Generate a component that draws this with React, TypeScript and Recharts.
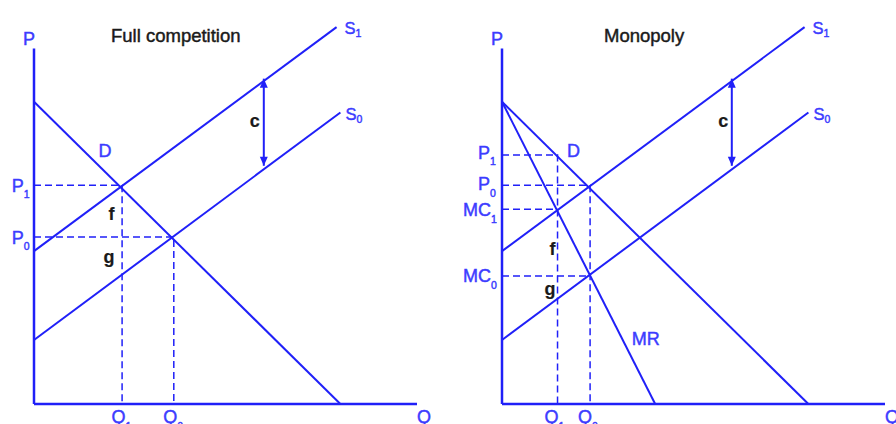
import { LineChart, Line, XAxis, YAxis, ReferenceDot } from 'recharts';

const LINE = '#2020f8';
const TEXT = '#3c3cff';
const INK = '#1a1a1a';
const FONT = '"Liberation Sans", Arial, sans-serif';

// both panels share the same curves (quantity 0-100, price 0-108)
const demand = [{ x: 0, y: 85 }, { x: 80, y: 0 }];
const marginalRevenue = [{ x: 0, y: 85 }, { x: 40, y: 0 }];
const supplyBefore = [{ x: 0, y: 18 }, { x: 80, y: 82 }];
const supplyAfter = [{ x: 0, y: 43 }, { x: 79, y: 106 }];
const costShift = [{ x: 60, y: 91.5 }, { x: 60, y: 67 }];
const priceAxis = [{ x: 0, y: 0 }, { x: 0, y: 100 }];
const quantityAxis = [{ x: 0, y: 0 }, { x: 100, y: 0 }];

// full competition: P1/Q1 after the cost rise, P0/Q0 before
const compNew = [{ x: 0, y: 61.5 }, { x: 23, y: 61.5 }, { x: 23, y: 0 }];
const compOld = [{ x: 0, y: 47 }, { x: 36.5, y: 47 }, { x: 36.5, y: 0 }];

// monopoly
const monoP1 = [{ x: 0, y: 70 }, { x: 14.5, y: 70 }, { x: 14.5, y: 0 }];
const monoP0 = [{ x: 0, y: 61.5 }, { x: 23, y: 61.5 }, { x: 23, y: 0 }];
const monoMC1 = [{ x: 0, y: 54.75 }, { x: 14.5, y: 54.75 }];
const monoMC0 = [{ x: 0, y: 36 }, { x: 23, y: 36 }];

interface TagProps {
    cx?: number;
    cy?: number;
    text: string;
    sub?: string;
    dx?: number;
    dy?: number;
    size?: number;
    subDy?: number;
    color?: string;
    bold?: boolean;
    anchor?: 'start' | 'middle' | 'end';
}

function Tag({ cx = 0, cy = 0, text, sub, dx = 0, dy = 0, size = 18, subDy = 6.5, color = TEXT, bold = false, anchor = 'start' }: TagProps) {
    return (
        <text
            x={cx + dx}
            y={cy + dy}
            fill={color}
            stroke={color}
            strokeWidth={bold ? 0.2 : 0.45}
            fontSize={size}
            fontFamily={FONT}
            fontWeight={bold ? 700 : 400}
            textAnchor={anchor}
        >
            {text}
            {sub ? <tspan fontSize={10.5} dy={subDy}>{sub}</tspan> : null}
        </text>
    );
}

function note(key: string, x: number, y: number, props: TagProps) {
    return (
        <ReferenceDot
            key={key}
            x={x}
            y={y}
            r={0}
            ifOverflow="visible"
            shape={(p: any) => <Tag cx={p.cx} cy={p.cy} {...props} />}
        />
    );
}

function ArrowHead(props: any) {
    const { cx, cy, index } = props;
    const d = index === 0 ? 9 : -9;
    return (
        <polygon
            key={`ah-${index}`}
            points={`${cx},${cy} ${cx - 4},${cy + d} ${cx + 4},${cy + d}`}
            fill={LINE}
        />
    );
}

function seg(key: string, data: { x: number; y: number }[], width = 2, dash?: string) {
    return (
        <Line
            key={key}
            data={data}
            dataKey="y"
            type="linear"
            stroke={LINE}
            strokeWidth={width}
            strokeDasharray={dash}
            dot={false}
            activeDot={false}
            isAnimationActive={false}
        />
    );
}

function Arrow() {
    return (
        <Line
            data={costShift}
            dataKey="y"
            type="linear"
            stroke={LINE}
            strokeWidth={2}
            dot={(p: any) => <ArrowHead {...p} key={`ah-${p.index}`} />}
            activeDot={false}
            isAnimationActive={false}
        />
    );
}

const axes = [
    <XAxis key="x" type="number" dataKey="x" domain={[0, 100]} hide />,
    <YAxis key="y" type="number" dataKey="y" domain={[0, 108]} hide />,
];

const black = { size: 18, color: INK, bold: true };

function FullCompetition() {
    return (
        <LineChart width={448} height={424} margin={{ top: 20, right: 31, bottom: 20, left: 34 }}>
            {axes}
            {seg('pa', priceAxis, 2.5)}
            {seg('qa', quantityAxis, 2.5)}
            {seg('d', demand)}
            {seg('s0', supplyBefore)}
            {seg('s1', supplyAfter)}
            {seg('new', compNew, 1.5, '7 4')}
            {seg('old', compOld, 1.5, '7 4')}
            <Arrow />
            {note('p', 0, 100, { text: 'P', dx: -11, dy: -3.5 })}
            {note('t', 0, 100, { text: 'Full competition', dx: 77, dy: -6.5, size: 18.5, color: INK })}
            {note('s1l', 79, 106, { text: 'S', sub: '1', dx: 8, dy: 7, size: 16.5, subDy: 3 })}
            {note('s0l', 80, 82, { text: 'S', sub: '0', dx: 5, dy: 8, size: 16.5, subDy: 3 })}
            {note('c', 60, 91.5, { text: 'c', dx: -14, dy: 48, ...black })}
            {note('dl', 0, 85, { text: 'D', dx: 64.5, dy: 55 })}
            {note('p1', 0, 61.5, { text: 'P', sub: '1', dx: -22.3, dy: 6.5 })}
            {note('p0', 0, 47, { text: 'P', sub: '0', dx: -22.3, dy: 7 })}
            {note('f', 23, 61.5, { text: 'f', dx: -10.5, dy: 35, anchor: 'middle', ...black })}
            {note('g', 23, 47, { text: 'g', dx: -13, dy: 26, anchor: 'middle', ...black })}
            {note('q1', 23, 0, { text: 'Q', sub: '1', dx: -10.5, dy: 19.2 })}
            {note('q0', 36.5, 0, { text: 'Q', sub: '0', dx: -10.5, dy: 19.2 })}
            {note('q', 100, 0, { text: 'Q', dx: 0, dy: 19.2 })}
        </LineChart>
    );
}

function Monopoly() {
    return (
        <LineChart width={448} height={424} margin={{ top: 20, right: 11, bottom: 20, left: 54 }}>
            {axes}
            {seg('pa', priceAxis, 2.5)}
            {seg('qa', quantityAxis, 2.5)}
            {seg('d', demand)}
            {seg('mr', marginalRevenue)}
            {seg('s0', supplyBefore)}
            {seg('s1', supplyAfter)}
            {seg('p1', monoP1, 1.5, '7 4')}
            {seg('p0', monoP0, 1.5, '7 4')}
            {seg('mc1', monoMC1, 1.5, '7 4')}
            {seg('mc0', monoMC0, 1.5, '7 4')}
            <Arrow />
            {note('p', 0, 100, { text: 'P', dx: -11, dy: -3.5 })}
            {note('t', 0, 100, { text: 'Monopoly', dx: 102, dy: -6.5, size: 18.5, color: INK })}
            {note('s1l', 79, 106, { text: 'S', sub: '1', dx: 8, dy: 7, size: 16.5, subDy: 3 })}
            {note('s0l', 80, 82, { text: 'S', sub: '0', dx: 5, dy: 8, size: 16.5, subDy: 3 })}
            {note('c', 60, 91.5, { text: 'c', dx: -13.5, dy: 48, ...black })}
            {note('dl', 0, 85, { text: 'D', dx: 65, dy: 55 })}
            {note('p1l', 0, 70, { text: 'P', sub: '1', dx: -24, dy: 3.5 })}
            {note('p0l', 0, 61.5, { text: 'P', sub: '0', dx: -24, dy: 5 })}
            {note('mc1l', 0, 54.75, { text: 'MC', sub: '1', dx: -39, dy: 6.7 })}
            {note('mc0l', 0, 36, { text: 'MC', sub: '0', dx: -39, dy: 6 })}
            {note('f', 14.5, 54.75, { text: 'f', dx: -5, dy: 45.5, anchor: 'middle', ...black })}
            {note('g', 14.5, 36, { text: 'g', dx: -7.5, dy: 19, anchor: 'middle', ...black })}
            {note('mrl', 40, 0, { text: 'MR', dx: -23.5, dy: -59 })}
            {note('q1', 14.5, 0, { text: 'Q', sub: '1', dx: -13, dy: 19.2 })}
            {note('q0', 23, 0, { text: 'Q', sub: '0', dx: -12, dy: 19.2 })}
            {note('q', 100, 0, { text: 'Q', dx: 0, dy: 19.2 })}
        </LineChart>
    );
}

export default function App() {
    return (
        <div style={{ position: 'absolute', left: 0, top: 0, width: 896, height: 424, background: '#fff' }}>
            <div style={{ position: 'absolute', left: 0, top: 0 }}>
                <FullCompetition />
            </div>
            <div style={{ position: 'absolute', left: 448, top: 0 }}>
                <Monopoly />
            </div>
        </div>
    );
}
